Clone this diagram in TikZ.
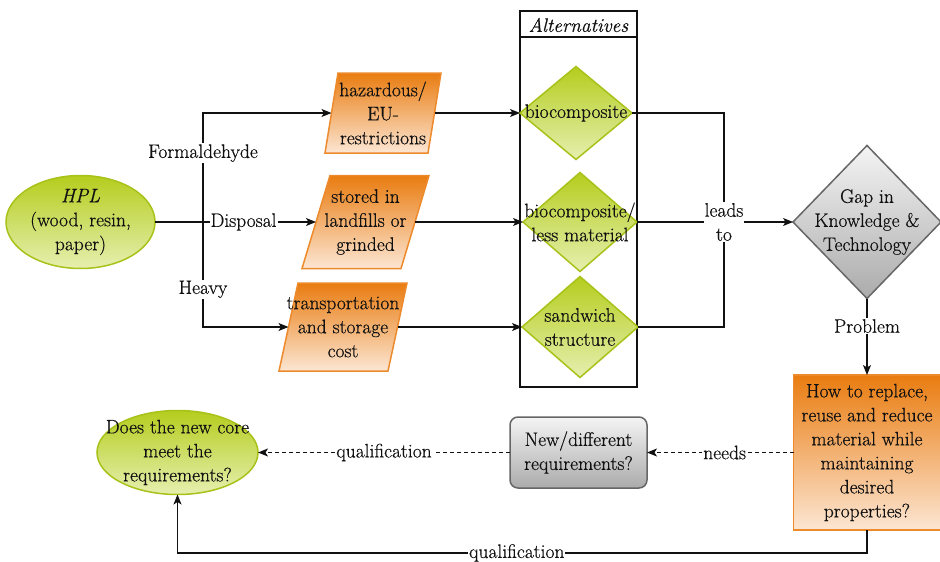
\documentclass[tikz,border=0pt]{standalone}
\usepackage{fontspec}
\setmainfont{Latin Modern Roman}[FakeBold=0.5]
\usetikzlibrary{shapes.geometric,arrows.meta,backgrounds,calc}
\definecolor{gtop}{HTML}{B5CD1E}
\definecolor{gbot}{HTML}{E6EFAF}
\definecolor{gline}{HTML}{A8C21A}
\definecolor{otop}{HTML}{E97C10}
\definecolor{obot}{HTML}{FCE6D3}
\definecolor{oline}{HTML}{EC8A2C}
\definecolor{ytop}{HTML}{F4F4F4}
\definecolor{ybot}{HTML}{ABABAB}
\definecolor{yline}{HTML}{666666}
\definecolor{ink}{HTML}{111111}
\tikzset{
 every node/.style={font=\fontsize{19.5}{24}\selectfont, align=center, inner sep=0pt, outer sep=0pt, text=ink},
 conn/.style={draw=ink, line width=1.2pt},
 arr/.style={conn, -{Stealth[length=10pt,width=8pt,inset=2.5pt]}},
 dash arr/.style={arr, dash pattern=on 4pt off 3pt},
 lbl/.style={fill=white, inner xsep=1pt, inner ysep=1pt},
 greenshape/.style={top color=gtop, bottom color=gbot, draw=gline, line width=1.5pt},
 orangeshape/.style={top color=otop, bottom color=obot, draw=oline, line width=1.5pt},
 grayshape/.style={top color=ytop, bottom color=ybot, draw=yline, line width=1.5pt},
 greendiamond/.style={diamond, greenshape},
}
% name, cx, cy, W, H, slant offset, text
\newcommand\pgram[7]{%
 \node[minimum width=#4pt, minimum height=#5pt] (#1) at (#2,#3) {#7};
 \begin{scope}[on background layer]
 \path[orangeshape] ([xshift=#6pt]#1.north west) -- (#1.north east) -- ([xshift=-#6pt]#1.south east) -- (#1.south west) -- cycle;
 \end{scope}
 \coordinate (#1-in) at ([xshift=#6pt/2]#1.west);
 \coordinate (#1-out) at ([xshift=-#6pt/2]#1.east);
}
\begin{document}
\begin{tikzpicture}[x=1pt,y=-1pt]
\useasboundingbox (0,0) rectangle (940,562);

% Alternatives container
\node[draw=ink, line width=1.2pt, minimum width=117pt, minimum height=376pt] (alt) at (578.5,199) {};
\node (alttitle) at (578.5,25) {\textit{Alternatives}};
\draw[conn] ([yshift=-26pt]alt.north west) -- ([yshift=-26pt]alt.north east);

% diamonds
\node[greendiamond, minimum width=112pt, minimum height=93pt, label={center:biocomposite}] (d1) at (576,113) {};
\node[greendiamond, minimum width=114pt, minimum height=99pt, label={center:biocomposite/\\less material}] (d2) at (580,222) {};
\node[greendiamond, minimum width=116pt, minimum height=101pt, label={center:sandwich\\structure}] (d3) at (580,327) {};

% HPL
\node[ellipse, greenshape, minimum width=149pt, minimum height=93pt, label={center:\textit{HPL}\\(wood, resin,\\paper)}] (hpl) at (80.5,222) {};

% parallelograms
\pgram{p1}{383}{113}{116}{80}{13}{hazardous/\\EU-\\restrictions}
\pgram{p2}{365.5}{222}{127}{93}{28}{stored in\\landfills or\\grinded}
\pgram{p3}{343}{327}{128}{88}{19}{transportation\\and storage\\cost}

% Gap diamond
\node[diamond, grayshape, minimum width=148pt, minimum height=153pt, label={center:Gap in\\Knowledge \&\\Technology}] (gap) at (867,222) {};

% question box
\node[orangeshape, minimum width=147pt, minimum height=155pt] (howto) at (867,452.5) {How to replace,\\reuse and reduce\\material while\\maintaining\\desired\\properties?};

% new requirements
\node[grayshape, rounded corners=8pt, minimum width=137pt, minimum height=71pt] (newreq) at (578.5,452.5) {New/different\\requirements?};

% core ellipse
\node[ellipse, greenshape, minimum width=161pt, minimum height=84pt, label={center:Does the new core\\meet the\\requirements?}] (core) at (177.5,452.5) {};

% HPL branches
\coordinate (split) at (203,222);
\draw[arr] (hpl.east) -- (split) |- node[lbl, pos=0.316]{Formaldehyde} (p1-in);
\draw[arr] (hpl.east) -- node[lbl, pos=0.55]{Disposal} (p2-in);
\draw[arr] (split) |- node[lbl, pos=0.32]{Heavy} (p3-in);

% to alternatives
\draw[arr] (p1-out) -- (d1.west);
\draw[arr] (p2-out) -- (d2.west);
\draw[arr] (p3-out) -- (d3.west);

% leads to
\coordinate (junc) at (724,222);
\draw[conn] (d1.east) -| (junc);
\draw[conn] (d3.east) -| (junc);
\draw[conn] (d2.east) -- (junc);
\node[lbl] (leads) at (724,222) {leads\\to};
\draw[arr] (leads.east) -- (gap.west);

% problem
\draw[arr] (gap.south) -- node[lbl, pos=0.36]{Problem} (howto.north);

% bottom row
\draw[dash arr] (howto.west) -- node[lbl, pos=0.47]{needs} (newreq.east);
\draw[dash arr] (newreq.west) -- node[lbl, pos=0.5]{qualification} (core.east);
\draw[arr] (howto.south) -- ++(0,23) -| node[lbl, pos=0.254]{qualification} (core.south);
\end{tikzpicture}
\end{document}
